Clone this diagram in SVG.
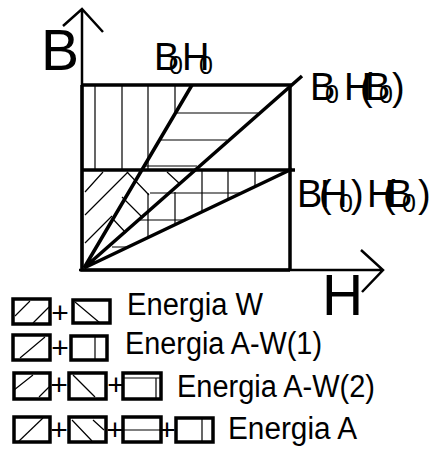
<svg xmlns="http://www.w3.org/2000/svg" width="431" height="449" viewBox="0 0 431 449">
<style>
.ax{stroke:#000;stroke-width:2.5;fill:none;stroke-linecap:butt}
.fr{stroke:#000;stroke-width:3.5;fill:none}
.hl{stroke:#000;stroke-width:1.2;fill:none}
.t{font-family:"Liberation Sans",Arial,sans-serif;fill:#000}
.bx{stroke:#000;stroke-width:3.5;fill:#fff}
</style>
<rect width="431" height="449" fill="#fff"/>
<g id="hatching">
<path class="hl" d="M95,85V170M122,85V170M148,85V170M175,85V114"/>
<path class="hl" d="M176,113H258M160,140H227M145,166H197"/>
<path class="hl" d="M85,192L103,172M85,215L128,172M85,243L112,216"/>
<path class="hl" d="M127,172L149,195M122,197L143,218M112,218L126,233M167,172L180,184"/>
<path class="hl" d="M148,193V237M175,192V224M202,170V212M228,170V199M255,170V186"/>
<path class="hl" d="M150,193H241M138,220H184M112,247H128"/>
</g>
<g id="frame">
<path class="fr" d="M82,85H290V270M82,170H295M82,85V270H290"/>
<path class="fr" d="M84,268L192,85M84,268L302,76M84,268L292,169"/>
</g>
<g id="axes">
<path class="ax" d="M82,270V9M63,26L82,9L103,32"/>
<path class="ax" d="M79,270H383M361,250L383,270L362,292"/>
</g>
<g id="labels">
<text class="t" x="41" y="70" font-size="57">B</text>
<text class="t" x="322" y="315" font-size="57">H</text>
<text class="t" font-size="38"><tspan x="154" y="70">B</tspan><tspan x="169" y="74" font-size="25">0</tspan><tspan x="182" y="70">H</tspan><tspan x="199" y="74" font-size="25">0</tspan></text>
<text class="t" font-size="38"><tspan x="310" y="100">B</tspan><tspan x="325" y="103" font-size="25">0</tspan><tspan x="344" y="100">H</tspan><tspan x="360" y="100">(</tspan><tspan x="365" y="100">B</tspan><tspan x="379" y="103" font-size="25">0</tspan><tspan x="392" y="100">)</tspan></text>
<text class="t" font-size="38"><tspan x="297" y="207">B</tspan><tspan x="319" y="207">(</tspan><tspan x="320" y="207">H</tspan><tspan x="339" y="212" font-size="25">0</tspan><tspan x="351" y="207">)</tspan><tspan x="367" y="207">H</tspan><tspan x="383" y="207">(</tspan><tspan x="387" y="207">B</tspan><tspan x="402" y="212" font-size="25">0</tspan><tspan x="418" y="207">)</tspan></text>
</g>
<g id="legend">
<g id="row1">
<rect class="bx" x="13" y="299" width="37" height="25"/>
<path class="hl" d="M15,316L30,301M33,323L49,307"/>
<text class="t" x="60" y="323" font-size="30" text-anchor="middle">+</text>
<rect class="bx" x="73" y="300" width="37" height="23"/>
<path class="hl" d="M75,302L100,323"/>
<text class="t" x="127" y="315" font-size="31" textLength="136" lengthAdjust="spacingAndGlyphs">Energia W</text>
</g>
<g id="row2">
<rect class="bx" x="13" y="335" width="37" height="25"/>
<path class="hl" d="M20,358L45,337"/>
<text class="t" x="60" y="358" font-size="30" text-anchor="middle">+</text>
<rect class="bx" x="71" y="336" width="36" height="24"/>
<path class="hl" d="M95,336V360"/>
<text class="t" x="125" y="354" font-size="31" textLength="197" lengthAdjust="spacingAndGlyphs">Energia A-W(1)</text>
</g>
<g id="row3">
<rect class="bx" x="14" y="373" width="36" height="26"/>
<path class="hl" d="M14,390L33,375M39,397L49,387"/>
<text class="t" x="59" y="395" font-size="30" text-anchor="middle">+</text>
<rect class="bx" x="69" y="373" width="37" height="26"/>
<path class="hl" d="M73,375L95,397"/>
<text class="t" x="116" y="395" font-size="30" text-anchor="middle">+</text>
<rect class="bx" x="123" y="373" width="38" height="26"/>
<path class="hl" d="M123,378H161M156,378V399"/>
<text class="t" x="177" y="397" font-size="31" textLength="198" lengthAdjust="spacingAndGlyphs">Energia A-W(2)</text>
</g>
<g id="row4">
<rect class="bx" x="14" y="417" width="36" height="25"/>
<path class="hl" d="M18,442L43,418"/>
<text class="t" x="59" y="440" font-size="30" text-anchor="middle">+</text>
<rect class="bx" x="69" y="417" width="37" height="25"/>
<path class="hl" d="M72,420L92,441M93,420L104,430"/>
<text class="t" x="115" y="440" font-size="30" text-anchor="middle">+</text>
<rect class="bx" x="123" y="417" width="38" height="25"/>
<path class="hl" d="M123,430H161"/>
<text class="t" x="167" y="440" font-size="30" text-anchor="middle">+</text>
<rect class="bx" x="176" y="418" width="37" height="24"/>
<path class="hl" d="M202,418V442"/>
<text class="t" x="228" y="439" font-size="31" textLength="129" lengthAdjust="spacingAndGlyphs">Energia A</text>
</g>
</g>
</svg>
